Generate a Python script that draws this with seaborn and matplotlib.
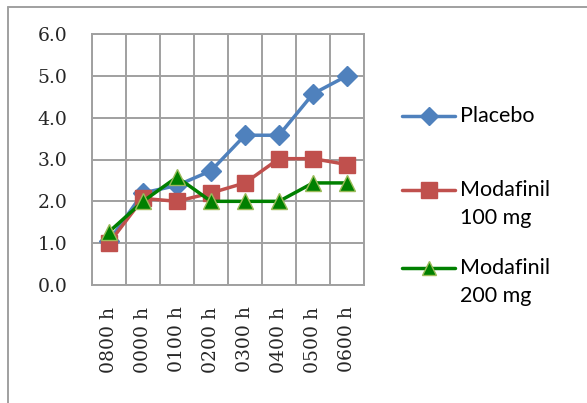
import matplotlib
matplotlib.use("Agg")
import matplotlib.pyplot as plt
import seaborn as sns
import pandas as pd
import numpy as np
from matplotlib.lines import Line2D

categories = ["0800 h", "0000 h", "0100 h", "0200 h", "0300 h", "0400 h", "0500 h", "0600 h"]
placebo = [1.05, 2.2, 2.38, 2.73, 3.58, 3.58, 4.57, 5.0]
moda100 = [1.0, 2.07, 2.0, 2.2, 2.44, 3.02, 3.02, 2.88]
moda200 = [1.27, 2.0, 2.58, 2.0, 2.0, 2.0, 2.44, 2.44]
series_names = ["Placebo", "Modafinil\n100 mg", "Modafinil\n200 mg"]
y_ticks = [0, 1, 2, 3, 4, 5, 6]

sns.set_style("white")
plt.rcParams["font.family"] = ["DejaVu Sans"]

rows = []
for name, vals in zip(series_names, [placebo, moda100, moda200]):
    for i, v in enumerate(vals):
        rows.append({"series": name, "pos": i, "value": v})
df = pd.DataFrame(rows)

W, H = 587, 403
fig = plt.figure(figsize=(W/100, H/100), dpi=100)
ax = fig.add_axes([92/W, 1-285/H, 272/W, 251/H])

colors = {"Placebo": "#4F81BD", "Modafinil\n100 mg": "#C0504D", "Modafinil\n200 mg": "#008000"}
markers = {"Placebo": "D", "Modafinil\n100 mg": "s", "Modafinil\n200 mg": "^"}
msizes = {"Placebo": 10, "Modafinil\n100 mg": 12, "Modafinil\n200 mg": 11.5}
medge = {"Placebo": "#4F81BD", "Modafinil\n100 mg": "#C0504D", "Modafinil\n200 mg": "#9BBB59"}

for name in series_names:
    sub = df[df["series"] == name]
    sns.lineplot(data=sub, x="pos", y="value", ax=ax, color=colors[name], lw=2.5,
                 marker=markers[name], markersize=msizes[name],
                 markeredgecolor=medge[name], markeredgewidth=1.0, legend=False,
                 zorder=3)

ax.set_xlim(-0.5, 7.5)
ax.set_ylim(0, 6)
ax.set_xticks(range(len(categories)))
ax.set_xticklabels(categories, rotation=90, family="DejaVu Serif", fontsize=13.5)
ax.set_xticks(np.arange(-0.5, 8.0, 1.0), minor=True)
ax.tick_params(axis="x", which="major", length=0, pad=15.5)
ax.tick_params(axis="x", which="minor", length=6, width=1.4, color="#A0A0A0", direction="out")
ax.set_yticks(y_ticks)
ax.set_yticklabels([f"{v:.1f}" for v in y_ticks], family="DejaVu Serif", fontsize=13.5)
ax.tick_params(axis="y", which="major", length=6.5, width=1.4, color="#A0A0A0", direction="out", pad=11)
ax.grid(True, axis="y", which="major", color="#A0A0A0", lw=1.4)
ax.grid(True, axis="x", which="minor", color="#A0A0A0", lw=1.4)
ax.set_axisbelow(True)
for s in ax.spines.values():
    s.set_color("#A0A0A0")
    s.set_linewidth(1.4)
ax.set_xlabel("")
ax.set_ylabel("")

# legend drawn manually (handle aligned with first text line, as in the reference)
leg_y = [116, 190, 268]  # pixel y of handle centres
for name, yy in zip(series_names, leg_y):
    fy = 1 - yy/H
    fig.add_artist(Line2D([402/W, 455/W], [fy, fy], color=colors[name], lw=2.5,
                          transform=fig.transFigure))
    fig.add_artist(Line2D([428.5/W], [fy], color=colors[name], lw=0, marker=markers[name],
                          markersize=msizes[name] - 1, markeredgecolor=medge[name],
                          markeredgewidth=1.0, transform=fig.transFigure))
    fig.text(460/W, 1 - (yy - 10)/H, name, ha="left", va="top", family="Lato",
             fontsize=15.5, color="black", linespacing=1.5)

# outer chart border (top and left visible)
fig.add_artist(Line2D([8/W, 1.0], [1-7/H, 1-7/H], color="#A0A0A0", lw=1.4, transform=fig.transFigure))
fig.add_artist(Line2D([8/W, 8/W], [0, 1-7/H], color="#A0A0A0", lw=1.4, transform=fig.transFigure))

fig.savefig("out.png", dpi=100)
